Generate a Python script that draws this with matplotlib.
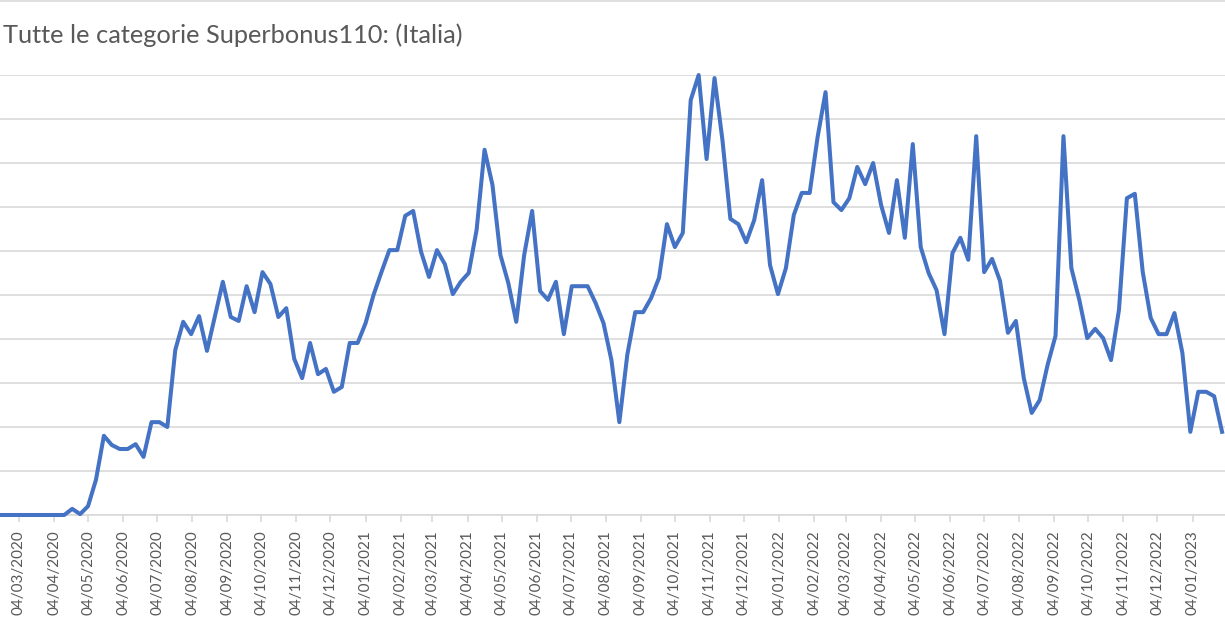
import numpy as np
import pandas as pd
import matplotlib
matplotlib.use("Agg")
import matplotlib.pyplot as plt
import matplotlib.dates as mdates

# weekly series (Mondays), values in gridline units
start_date = "2020-02-17"
n_weeks = 155
values = [
    0, 0, 0, 0, 0, 0, 0, 0, 0, 0.14,
    0.02, 0.20, 0.80, 1.80, 1.59, 1.50, 1.50, 1.61, 1.32, 2.11,
    2.11, 2.00, 3.75, 4.39, 4.11, 4.52, 3.73, 4.52, 5.30, 4.50,
    4.41, 5.20, 4.61, 5.52, 5.25, 4.50, 4.70, 3.55, 3.11, 3.91,
    3.20, 3.32, 2.80, 2.91, 3.91, 3.91, 4.36, 5.00, 5.52, 6.02,
    6.02, 6.80, 6.91, 5.98, 5.41, 6.02, 5.70, 5.02, 5.30, 5.50,
    6.48, 8.30, 7.50, 5.91, 5.27, 4.39, 5.91, 6.91, 5.09, 4.89,
    5.30, 4.11, 5.20, 5.20, 5.20, 4.82, 4.36, 3.52, 2.11, 3.64,
    4.61, 4.61, 4.93, 5.39, 6.61, 6.09, 6.41, 9.43, 10.0, 8.09,
    9.93, 8.52, 6.73, 6.61, 6.20, 6.70, 7.61, 5.68, 5.02, 5.61,
    6.82, 7.32, 7.32, 8.59, 9.61, 7.11, 6.93, 7.20, 7.91, 7.52,
    8.00, 7.05, 6.41, 7.61, 6.30, 8.43, 6.09, 5.50, 5.11, 4.11,
    5.95, 6.30, 5.80, 8.61, 5.52, 5.82, 5.32, 4.14, 4.41, 3.11,
    2.32, 2.61, 3.41, 4.07, 8.61, 5.61, 4.89, 4.02, 4.23, 4.02,
    3.52, 4.66, 7.20, 7.30, 5.52, 4.48, 4.11, 4.11, 4.59, 3.68,
    1.89, 2.80, 2.80, 2.70, 1.89,
]
dates = pd.date_range(start_date, periods=n_weeks, freq="7D")

title = "Tutte le categorie Superbonus110: (Italia)"

plt.rcParams['font.family'] = ['Lato', 'DejaVu Sans']

fig = plt.figure(figsize=(12.25, 6.18), dpi=100)
ax = fig.add_axes([0, 103 / 618, 1, 440 / 618])

ax.plot(dates, values, color='#4472C4', linewidth=2.9,
        solid_joinstyle='round', clip_on=False, zorder=3)

ax.set_ylim(0, 10)
ax.set_yticks(np.arange(0, 11, 1))
ax.set_xlim(dates[0] - pd.Timedelta(days=0.7), dates[-1] + pd.Timedelta(days=2.6))

ax.grid(axis='y', color='#d9d9d9', linewidth=1.2)
ax.set_axisbelow(True)
for s in ['left', 'right', 'top']:
    ax.spines[s].set_visible(False)
ax.spines['bottom'].set_color('#d9d9d9')
ax.spines['bottom'].set_linewidth(1.2)

ax.xaxis.set_major_locator(mdates.MonthLocator(bymonthday=4))
ax.xaxis.set_major_formatter(mdates.DateFormatter('%d/%m/%Y'))
ax.tick_params(axis='x', rotation=90, labelsize=11, labelcolor='#595959',
               color='#d9d9d9', length=5, width=1.2, pad=6)
ax.tick_params(axis='y', left=False, labelleft=False)

fig.text(3 / 1225, 1 - 35 / 618, title, fontsize=18.3, color='#595959',
         va='center', ha='left')
fig.add_artist(plt.Line2D([0, 1], [0.998, 0.998], color='#d9d9d9', linewidth=1.2))

fig.savefig('out.png', dpi=100, facecolor='white')
